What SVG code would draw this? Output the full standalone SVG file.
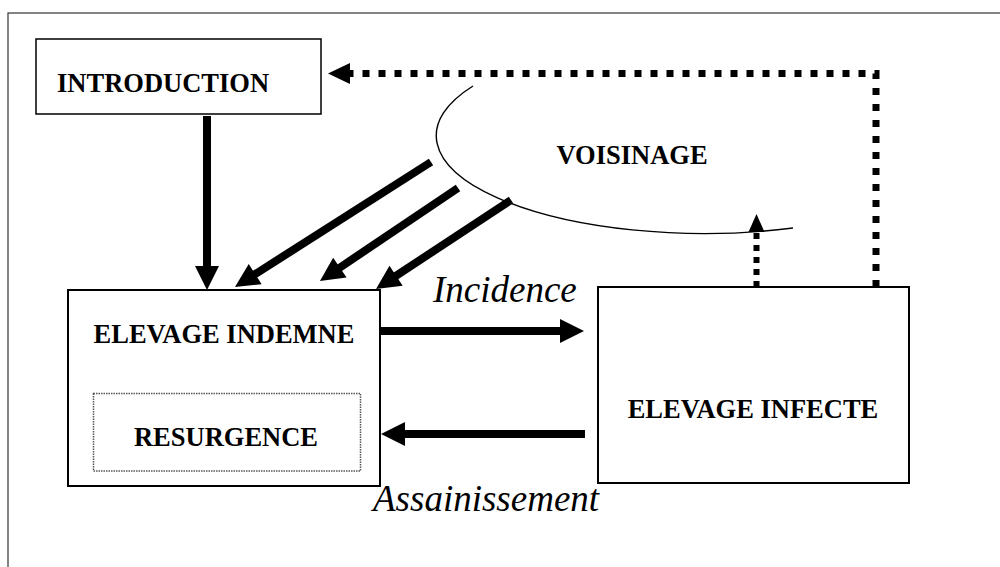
<svg xmlns="http://www.w3.org/2000/svg" width="1000" height="567" viewBox="0 0 1000 567">
<style>
.box{fill:#fff;stroke:#000}
.lbl{font-family:"Liberation Serif","Times New Roman",serif;font-weight:bold;font-size:26.5px;fill:#000}
.it{font-family:"Liberation Serif","Times New Roman",serif;font-style:italic;font-size:37px;fill:#000}
.solid{stroke:#000;stroke-width:8;fill:none}
.dot{stroke:#000;fill:none}
</style>
<defs>
<marker id="ah" markerUnits="userSpaceOnUse" markerWidth="26" markerHeight="26" refX="2" refY="12" orient="auto" overflow="visible">
<path d="M0,0 L24,12 L0,24 Z" fill="#000"/>
</marker>
<marker id="ahd" markerUnits="userSpaceOnUse" markerWidth="24" markerHeight="24" refX="0" refY="10.5" orient="auto" overflow="visible">
<path d="M0,0 L22,10.5 L0,21 Z" fill="#000"/>
</marker>
<marker id="ahs" markerUnits="userSpaceOnUse" markerWidth="20" markerHeight="20" refX="0" refY="8" orient="auto" overflow="visible">
<path d="M0,0 L18,8 L0,16 Z" fill="#000"/>
</marker>
</defs>
<rect x="8" y="13" width="1000" height="600" fill="#fff" stroke="#333" stroke-width="1.2"/>

<g id="voisinage">
<path d="M473,86 A268,98 0 0 0 793,228" fill="none" stroke="#000" stroke-width="1.4"/>
<text class="lbl" x="632" y="164" text-anchor="middle">VOISINAGE</text>
</g>

<g id="introduction">
<rect class="box" x="36" y="39" width="285" height="75" stroke-width="1.5"/>
<text class="lbl" x="57" y="92">INTRODUCTION</text>
</g>

<g id="elevage-indemne">
<rect class="box" x="68" y="290" width="312" height="196" stroke-width="2"/>
<text class="lbl" x="224" y="343" text-anchor="middle">ELEVAGE INDEMNE</text>
</g>

<g id="resurgence">
<rect x="93.5" y="393.5" width="267" height="77.5" fill="none" stroke="#555" stroke-width="1.5" stroke-dasharray="1.5 1"/>
<text class="lbl" x="226" y="446" text-anchor="middle">RESURGENCE</text>
</g>

<g id="elevage-infecte">
<rect class="box" x="598" y="287" width="311" height="196" stroke-width="2"/>
<text class="lbl" x="753" y="418" text-anchor="middle">ELEVAGE INFECTE</text>
</g>

<g id="connectors">
<line class="solid" x1="207" y1="116" x2="207" y2="268" marker-end="url(#ah)"/>
<line class="solid" x1="431" y1="162" x2="253.5" y2="275.2" marker-end="url(#ah)"/>
<line class="solid" x1="458" y1="188" x2="338.2" y2="268.7" marker-end="url(#ah)"/>
<line class="solid" x1="511" y1="200" x2="394.4" y2="276.9" marker-end="url(#ah)"/>
<line class="solid" x1="380" y1="331" x2="562" y2="331" stroke-width="7" marker-end="url(#ah)"/>
<line class="solid" x1="585" y1="434" x2="403" y2="434" stroke-width="7" marker-end="url(#ah)"/>
<path class="dot" d="M876,287 L876,73.5 L350,73.5" stroke-width="7" stroke-dasharray="7 9" marker-end="url(#ahd)"/>
<path class="dot" d="M756.5,287 L756.5,232" stroke-width="6" stroke-dasharray="6 6" marker-end="url(#ahs)"/>
<text class="it" x="433" y="302">Incidence</text>
<text class="it" x="373" y="511">Assainissement</text>
</g>
</svg>
